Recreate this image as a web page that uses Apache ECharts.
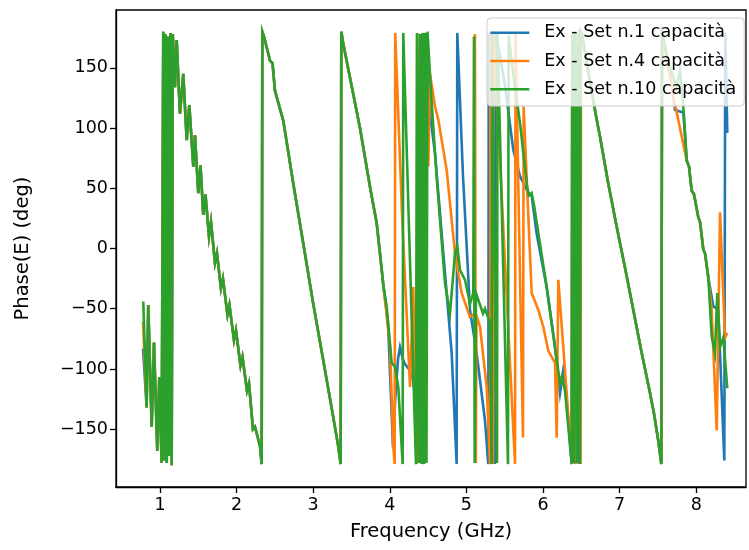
<!DOCTYPE html>
<html>
<head>
<meta charset="utf-8">
<script src="https://cdn.jsdelivr.net/npm/echarts@6/dist/echarts.min.js"></script>
<style>
html,body{margin:0;padding:0;background:#fff;}
#chart{width:749px;height:550px;}
</style>
</head>
<body>
<div id="chart"></div>
<script>
// ---- data (frequency GHz, phase deg) ----
const seriesNames = ['Ex - Set n.1 capacità', 'Ex - Set n.4 capacità', 'Ex - Set n.10 capacità'];
const xTicks = [1, 2, 3, 4, 5, 6, 7, 8];
const yTicks = [-150, -100, -50, 0, 50, 100, 150];

const blueStart = [[0.779, -83]];
const orangeStart = [[0.779, -61]];
const greenStart = [[0.782, -44]];

const sharedEarly = [
  [0.826,-132],[0.847,-47],[0.892,-148],[0.922,-78],[0.965,-168],[0.991,-107],[1.022,-178],
  [1.043,180],[1.059,-176],[1.072,178],[1.089,-178],[1.104,176],[1.121,-172],[1.137,179],
  [1.153,-180],[1.167,178],[1.196,134],[1.218,173],[1.261,112],[1.304,145],[1.349,90],
  [1.383,119],[1.435,68],[1.457,94],[1.500,46],[1.529,69],[1.565,28],[1.594,45],[1.640,10],
  [1.666,22],[1.718,-12],[1.744,-4],[1.796,-33],[1.822,-25],[1.881,-55],[1.907,-47],
  [1.966,-76],[1.992,-68],[2.051,-97],[2.077,-90],[2.136,-118],[2.162,-112],[2.214,-150],
  [2.240,-148],[2.289,-160],[2.306,-164],[2.328,-179],[2.336,180],[2.358,176],[2.436,156],
  [2.469,154],[2.501,131],[2.610,106],[2.740,54],[2.871,4],[3.001,-46],[3.132,-93],
  [3.262,-140],[3.324,-163],[3.359,-179],[3.367,180],[3.393,170],[3.480,142],[3.611,100],
  [3.742,51],[3.829,21],[3.872,-4],[3.915,-30]
];

const blueMid = [
  [3.977,-62],[4.042,-165],[4.068,-128],[4.107,-92],[4.133,-82],[4.172,-92],[4.198,-96],
  [4.286,-103],[4.351,-128],[4.407,-165],[4.440,-179],[4.449,179],[4.525,112],[4.590,79],
  [4.699,-4],[4.808,-87],[4.873,-179],[4.881,179],[4.956,60],[5.047,-51],[5.134,-87],
  [5.243,-143],[5.286,-179],[5.292,179],[5.373,-179],[5.381,179],[5.439,160],[5.504,135],
  [5.612,82],[5.700,60],[5.808,46],[5.852,44],[5.918,12],[6.048,-32],[6.157,-82],
  [6.222,-120],[6.265,-101],[6.300,-118],[6.375,-179],[6.383,179],[6.418,-179],[6.431,179],
  [6.470,-179],[6.478,180]
];

const orangeMid = [
  [3.950,-50],[4.003,-82],[4.046,-165],[4.064,-179],[4.071,179],[4.159,30],[4.264,-115],
  [4.307,-32],[4.351,-179],[4.358,179],[4.434,-178],[4.441,179],[4.503,68],[4.525,145],
  [4.547,145],[4.590,118],[4.633,107],[4.743,65],[4.851,-4],[4.894,-21],[4.939,-37],
  [5.047,-57],[5.106,-54],[5.112,178],[5.123,-178],[5.132,-56],[5.178,-65],[5.265,-115],
  [5.308,-179],[5.315,179],[5.347,-179],[5.355,179],[5.635,-179],[5.641,179],[5.739,-157],
  [5.747,118],[5.852,-37],[5.939,-51],[6.004,-65],[6.069,-85],[6.157,-95],[6.179,-157],
  [6.200,-26],[6.309,-120],[6.375,-177],[6.381,179],[6.431,-179],[6.439,179],[6.490,-179],
  [6.496,180]
];

const greenMid = [
  [3.959,-48],[4.025,-95],[4.068,-98],[4.111,-115],[4.168,-179],[4.176,179],[4.342,-179],
  [4.355,179],[4.381,-178],[4.394,178],[4.414,-179],[4.427,179],[4.447,-179],[4.460,179],
  [4.479,-178],[4.492,180],[4.547,121],[4.612,59],[4.721,-29],[4.786,-54],[4.851,-4],
  [4.881,2],[4.917,-18],[4.982,-26],[5.047,-46],[5.090,-37],[5.099,176],[5.108,-178],
  [5.125,-37],[5.217,-54],[5.243,-50],[5.308,-62],[5.330,-179],[5.337,179],[5.400,-178],
  [5.406,179],[5.543,-179],[5.551,177],[5.622,140],[5.700,104],[5.791,52],[5.817,44],
  [5.852,46],[5.883,36],[6.048,-32],[6.157,-82],[6.222,-112],[6.248,-106],[6.287,-118],
  [6.375,-179],[6.383,179],[6.405,-178],[6.418,179],[6.444,-178],[6.457,179],[6.483,-179],
  [6.491,180]
];

const sharedLate = [
  [6.509,178],[6.614,138],[6.701,107],[6.744,93],[6.849,55],[6.962,18],[7.071,-16],
  [7.179,-51],[7.280,-84],[7.397,-120],[7.449,-137],[7.506,-160],[7.545,-179],[7.554,179]
];

const sharedUpper = [
  [7.906,68],[7.941,48],[7.971,45],[8.027,26],[8.050,22],[8.093,-1],[8.115,-4],[8.158,-24]
];

const blueHead = [[7.684,135],[7.723,115],[7.832,113],[7.876,73]];
const blueTail = [[8.223,-48],[8.288,-51],[8.367,-176],[8.379,179],[8.406,96]];
const orangeHead = [[7.723,120],[7.876,73]];
const orangeTail = [[8.202,-51],[8.268,-151],[8.311,30],[8.376,-74],[8.406,-70]];
const greenHead = [[7.658,150],[7.745,134],[7.789,148],[7.841,110],[7.876,73]];
const greenTail = [[8.202,-73],[8.245,-87],[8.275,-37],[8.311,-82],[8.354,-74],[8.406,-116]];

const blueData = [].concat(blueStart, sharedEarly, blueMid, sharedLate, blueHead, sharedUpper, blueTail);
const orangeData = [].concat(orangeStart, sharedEarly, orangeMid, sharedLate, orangeHead, sharedUpper, orangeTail);
const greenData = [].concat(greenStart, sharedEarly, greenMid, sharedLate, greenHead, sharedUpper, greenTail);

const colors = ['#1f77b4', '#ff7f0e', '#2ca02c'];
const FONT = 'DejaVu Sans';
const FS = 17.5;
const NFS = 19.5;

const chart = echarts.init(document.getElementById('chart'), null, {renderer: 'canvas'});
const mkSeries = (name, data, color) => ({
  name: name,
  type: 'line',
  data: data,
  showSymbol: false,
  symbol: 'none',
  color: color,
  lineStyle: {width: 2.6, color: color, cap: 'butt', join: 'miter'},
  emphasis: {disabled: true},
  animation: false
});
const lineIcon = 'path://M0,0L39,0L39,2.6L0,2.6Z';

chart.setOption({
  animation: false,
  backgroundColor: '#fff',
  textStyle: {fontFamily: FONT},
  grid: {left: 116, right: 3, top: 10, bottom: 63, show: true, borderColor: '#000', borderWidth: 1.3, containLabel: false},
  legend: {
    data: seriesNames.map((n, i) => ({name: n, icon: lineIcon, itemStyle: {color: colors[i]}})),
    orient: 'vertical',
    left: 487,
    top: 18,
    width: 260,
    itemWidth: 39,
    itemHeight: 20,
    itemGap: 8.3,
    padding: [4.7, 8, 6.7, 3.3],
    backgroundColor: 'rgba(255,255,255,0.8)',
    borderColor: '#cccccc',
    borderWidth: 1,
    borderRadius: 4,
    textStyle: {fontFamily: FONT, fontSize: FS, color: '#000', padding: [0, 0, 0, 10], lineHeight: 20}
  },
  xAxis: {
    type: 'value',
    min: 0.426,
    max: 8.65,
    name: 'Frequency (GHz)',
    nameLocation: 'middle',
    nameGap: 35,
    nameTextStyle: {fontFamily: FONT, fontSize: NFS, color: '#000'},
    axisLine: {show: true, onZero: false, lineStyle: {color: '#000', width: 1.3}},
    axisTick: {show: true, length: 6, lineStyle: {color: '#000', width: 1.3}, customValues: xTicks},
    axisLabel: {customValues: xTicks, margin: 9, fontFamily: FONT, fontSize: FS, color: '#000'},
    splitLine: {show: false}
  },
  yAxis: {
    type: 'value',
    min: -198,
    max: 198,
    name: 'Phase(E) (deg)',
    nameLocation: 'middle',
    nameGap: 83,
    nameRotate: 90,
    nameTextStyle: {fontFamily: FONT, fontSize: NFS, color: '#000'},
    axisLine: {show: true, onZero: false, lineStyle: {color: '#000', width: 1.3}},
    axisTick: {show: true, length: 6, lineStyle: {color: '#000', width: 1.3}, customValues: yTicks},
    axisLabel: {
      customValues: yTicks, margin: 8, fontFamily: FONT, fontSize: FS, color: '#000',
      formatter: v => (v < 0 ? '\u2212' + Math.abs(v) : String(v))
    },
    splitLine: {show: false}
  },
  series: [
    mkSeries(seriesNames[0], blueData, colors[0]),
    mkSeries(seriesNames[1], orangeData, colors[1]),
    mkSeries(seriesNames[2], greenData, colors[2])
  ]
});
</script>
</body>
</html>
